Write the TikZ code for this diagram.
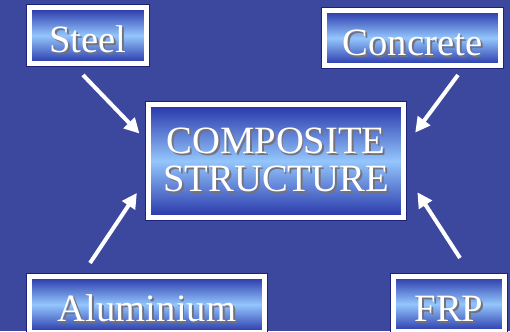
\documentclass[tikz,border=0pt]{standalone}
\usepackage{fontspec}
\setmainfont{Liberation Serif}
\usetikzlibrary{arrows.meta}
\definecolor{bgblue}{RGB}{60,72,158}
\definecolor{boxdark}{RGB}{38,52,168}
\definecolor{boxlight}{RGB}{148,198,252}
\definecolor{boxedge}{RGB}{28,34,122}
\definecolor{shadowgray}{RGB}{115,115,125}
\newcommand{\shtxt}[1]{\rlap{\kern1.1pt\raisebox{-1.1pt}{\color{shadowgray}#1}}#1}

\begin{document}
\begin{tikzpicture}[x=0.02cm,y=-0.02cm,
  box/.style={rectangle,draw=white,line width=0.1cm,inner sep=0pt,
    top color=boxdark,bottom color=boxdark,middle color=boxlight,
    preaction={draw=boxedge,line width=0.14cm},
    text=white,font=\fontsize{22}{21.5}\selectfont,
    text height=20pt,text depth=0.2pt},
  link/.style={white,line width=0.08cm,-{Triangle[length=0.3cm,width=0.3cm]}}]
\useasboundingbox (0,0) rectangle (510,331);
\fill [bgblue] (0,0) rectangle (510,331);
\clip (0,0) rectangle (510,331);
\node [box,minimum width=2.34cm,minimum height=1.12cm] (steel) at (88,35.5) {\shtxt{Steel}};
\node [box,minimum width=3.52cm,minimum height=1.10cm] (concrete) at (412.5,38) {\shtxt{Concrete}};
\node [box,minimum width=5.10cm,minimum height=2.26cm,align=center,
  text height={},text depth={}] (comp) at (276,161) {\shtxt{COMPOSITE}\\\shtxt{STRUCTURE}};
\node [box,minimum width=4.70cm,minimum height=1.12cm] (alu) at (147,304.5) {\shtxt{Aluminium}};
\node [box,minimum width=2.22cm,minimum height=1.12cm] (frp) at (449,304) {\shtxt{FRP}};
\coordinate (steel-tail) at (83,75);
\coordinate (concrete-tail) at (458,75);
\coordinate (alu-tail) at (90,263);
\coordinate (frp-tail) at (460,258);
\draw [link,shorten >=0.19cm] (steel-tail) -- (comp.171.3);
\draw [link,shorten >=0.31cm] (concrete-tail) -- (comp.7.1);
\draw [link,shorten >=0.33cm] (alu-tail) -- (comp.188.7);
\draw [link,shorten >=0.42cm] (frp-tail) -- (comp.354.8);
\end{tikzpicture}
\end{document}
